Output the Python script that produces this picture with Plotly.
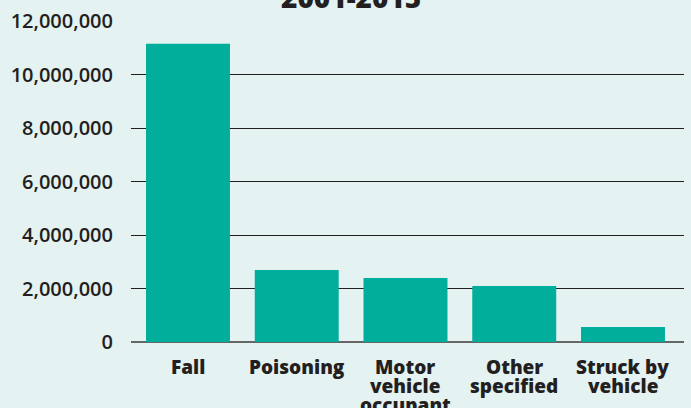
import plotly.graph_objects as go

categories = ["Fall", "Poisoning", "Motor<br>vehicle<br>occupant", "Other<br>specified", "Struck by<br>vehicle"]
values = [11150000, 2690000, 2390000, 2090000, 560000]
tick_vals = [0, 2000000, 4000000, 6000000, 8000000, 10000000, 12000000]
tick_text = ["0", "2,000,000", "4,000,000", "6,000,000", "8,000,000", "10,000,000", "12,000,000"]
title_text = "2001-2015"

bg = "#e4f2f2"
ink = "#231f20"
fig = go.Figure(go.Bar(x=categories, y=values, marker_color="#00ae9b", marker_line_width=0))
fig.update_layout(
    width=691, height=408, paper_bgcolor=bg, plot_bgcolor=bg,
    margin=dict(l=131, r=7, t=21, b=66, autoexpand=False),
    bargap=0.228, showlegend=False,
    font=dict(family="Open Sans", size=16, color=ink),
)
fig.update_yaxes(range=[0, 12000000], tickvals=tick_vals, ticktext=tick_text,
                 showgrid=True, gridcolor=ink, gridwidth=1, automargin=False,
                 zeroline=True, zerolinecolor="#666666", zerolinewidth=2,
                 tickfont=dict(family="Open Sans", size=20, weight=600, color=ink),
                 ticklabelstandoff=17)
fig.update_xaxes(showticklabels=False, showline=False, automargin=False,
                 range=[-0.524, 4.561])

# category labels, one line at a time for tight line spacing
for cat in categories:
    for i, line in enumerate(cat.split("<br>")):
        fig.add_annotation(text=line, x=cat, xref="x", y=0, yref="paper",
                           yanchor="top", yshift=-9.5 - 19 * i, showarrow=False,
                           font=dict(family="Open Sans", size=19, weight=800, color=ink))

fig.add_annotation(text=title_text, x=(351 - 131) / 553, xref="paper", y=1, yref="paper",
                   yshift=3, yanchor="bottom", showarrow=False,
                   font=dict(family="Open Sans", size=28, weight=800, color=ink))
fig.write_html("out.html", config={"displayModeBar": False},
               post_script="document.body.style.margin='0';")
